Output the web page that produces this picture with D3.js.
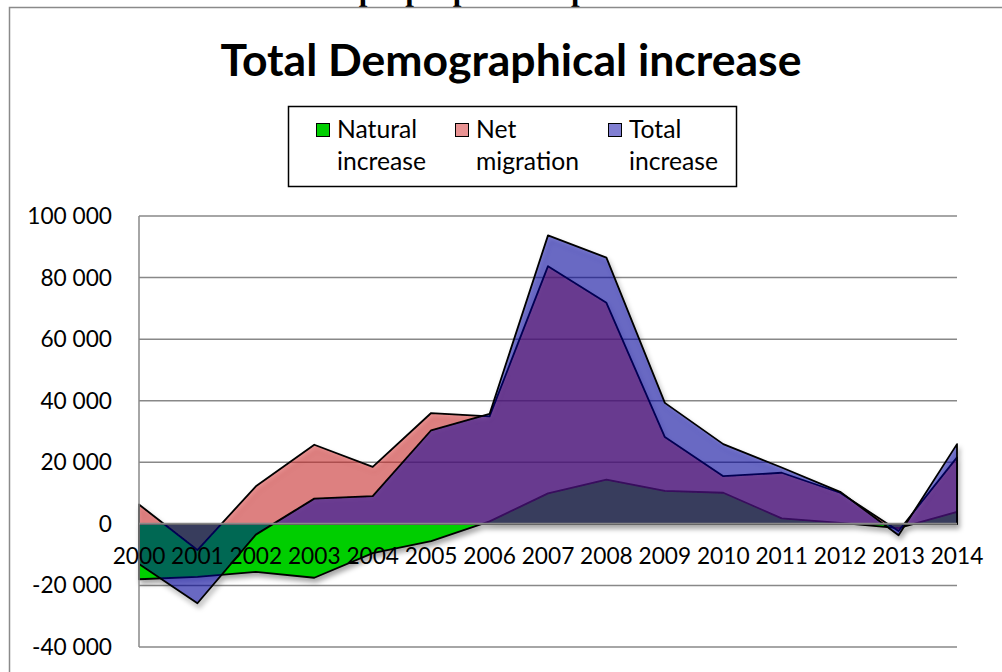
<!DOCTYPE html>
<html>
<head>
<meta charset="utf-8">
<script src="https://cdn.jsdelivr.net/npm/d3@7"></script>
<style>
  html, body { margin: 0; padding: 0; background: #fff; }
  svg { display: block; }
</style>
</head>
<body>
<svg id="chart" width="1002" height="672"></svg>
<script>
// Yearly population change, people per year
const years = [2000, 2001, 2002, 2003, 2004, 2005, 2006, 2007, 2008, 2009, 2010, 2011, 2012, 2013, 2014];
const naturalIncrease = [-18000, -17200, -15600, -17500, -9500, -5600, 800, 9900, 14400, 10700, 10100, 1800, 300, -1400, 3900];
const netMigration    = [6300, -8500, 12200, 25700, 18500, 36000, 34900, 83700, 71800, 28200, 15500, 16600, 10100, -2300, 21600];
const totalIncrease   = [-13000, -25800, -3500, 8200, 9000, 30400, 35700, 93700, 86500, 39300, 25900, 18300, 10400, -3700, 25900];
const yTicks = [-40000, -20000, 0, 20000, 40000, 60000, 80000, 100000];

const seriesNames = ["Natural increase", "Net migration", "Total increase"];
const legendLines = [["Natural", "increase"], ["Net", "migration"], ["Total", "increase"]];
const fills = ["rgb(0,206,0)", "rgba(212,40,40,0.5)", "rgba(4,0,166,0.5)"];

const series = [naturalIncrease, netMigration, totalIncrease].map((vals, i) => ({
  name: seriesNames[i],
  fill: fills[i],
  values: years.map((yr, j) => ({ year: yr, v: vals[j] }))
}));

const svg = d3.select("#chart");
const font = "Lato, 'Open Sans', sans-serif";

// Source line above the chart frame (runs off the top edge)
svg.append("text")
  .attr("x", 0).attr("y", 0)
  .attr("font-family", "'Liberation Serif', 'Times New Roman', serif")
  .attr("font-weight", "bold").attr("font-size", 31)
  .attr("fill", "#000")
  .text("Source: Annual number of people per time period.");

// Chart frame
svg.append("rect")
  .attr("x", 9.5).attr("y", 7.5).attr("width", 1100).attr("height", 800)
  .attr("fill", "#fff").attr("stroke", "#8a8a8a").attr("stroke-width", 1.5);

// Title
svg.append("text")
  .attr("x", 511).attr("y", 76)
  .attr("text-anchor", "middle")
  .attr("font-family", font).attr("font-weight", "bold").attr("font-size", 44.5)
  .attr("fill", "#000")
  .text("Total Demographical increase");

const x = d3.scalePoint().domain(years).range([139, 957]);
const y = d3.scaleLinear().domain([-40000, 100000]).range([647, 216]);

// Gridlines
svg.append("g").selectAll("line").data(yTicks).join("line")
  .attr("x1", 139).attr("x2", 957)
  .attr("y1", d => y(d)).attr("y2", d => y(d))
  .attr("stroke", "#888").attr("stroke-width", 1.5);

// Value axis labels: space as thousands separator, plain hyphen for negatives
const fmt = d => (d < 0 ? "-" : "") + d3.format(",")(Math.abs(d)).replace(/,/g, " ");
svg.append("g").selectAll("text").data(yTicks).join("text")
  .attr("x", 112).attr("y", d => y(d) + 8)
  .attr("text-anchor", "end")
  .attr("font-family", font).attr("font-size", 22.7).attr("fill", "#000")
  .text(fmt);

// Drop shadow for the area layers
const defs = svg.append("defs");
const f = defs.append("filter").attr("id", "shadow")
  .attr("x", "-5%").attr("y", "-5%").attr("width", "115%").attr("height", "120%");
f.append("feDropShadow").attr("dx", 2).attr("dy", 4).attr("stdDeviation", 2.5)
  .attr("flood-color", "#000").attr("flood-opacity", 0.35);

const area = d3.area()
  .x(d => x(d.year))
  .y0(y(0))
  .y1(d => y(d.v));

const areas = svg.append("g").attr("filter", "url(#shadow)");
areas.selectAll("path").data(series).join("path")
  .attr("d", d => area(d.values))
  .attr("fill", d => d.fill)
  .attr("stroke", "#000").attr("stroke-width", 1.8)
  .attr("stroke-linejoin", "round");

// Axis lines on top
svg.append("line")
  .attr("x1", 139).attr("x2", 957).attr("y1", y(0)).attr("y2", y(0))
  .attr("stroke", "#888").attr("stroke-width", 2);
svg.append("line")
  .attr("x1", 139).attr("x2", 139).attr("y1", y(100000)).attr("y2", y(-40000))
  .attr("stroke", "#888").attr("stroke-width", 1.5);

// Category labels
svg.append("g").selectAll("text").data(years).join("text")
  .attr("x", d => x(d)).attr("y", 564)
  .attr("text-anchor", "middle")
  .attr("font-family", font).attr("font-size", 22.7).attr("fill", "#000")
  .text(d => d);

// Legend
const legend = svg.append("g");
legend.append("rect")
  .attr("x", 288.5).attr("y", 106.5).attr("width", 448).attr("height", 80)
  .attr("fill", "#fff").attr("stroke", "#000").attr("stroke-width", 1.5);
const legX = [316, 455, 608];
series.forEach((s, i) => {
  legend.append("rect")
    .attr("x", legX[i] + 0.5).attr("y", 123.5).attr("width", 13).attr("height", 13)
    .attr("fill", s.fill).attr("stroke", "#000").attr("stroke-width", 1);
  legendLines[i].forEach((t, k) => {
    legend.append("text")
      .attr("x", legX[i] + 21).attr("y", 138 + k * 32)
      .attr("font-family", font).attr("font-size", 24.7).attr("fill", "#000")
      .text(t);
  });
});
</script>
</body>
</html>
